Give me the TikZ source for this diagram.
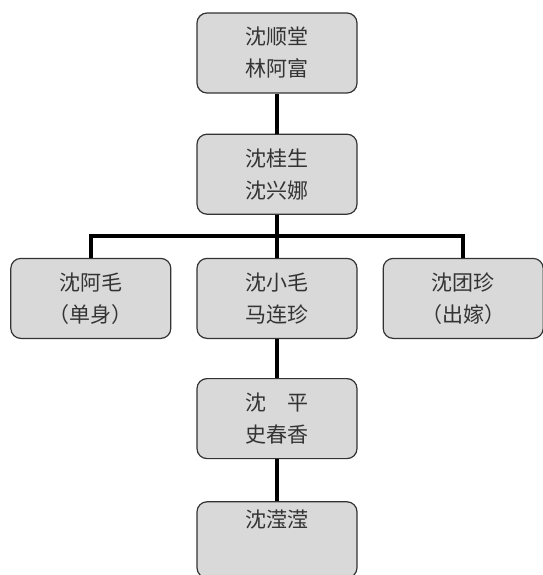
\documentclass[tikz,border=0pt]{standalone}
\usepackage{fontspec}
\newfontfamily\cjk{Noto Sans CJK SC}
\usetikzlibrary{positioning}

\begin{document}
\begin{tikzpicture}[
  person/.style={rectangle, rounded corners=10pt, draw=black!80, line width=1.2pt,
    fill=black!15, minimum width=160pt, minimum height=80pt, align=center,
    text=black!80, font=\cjk\fontsize{21pt}{32pt}\selectfont},
  link/.style={line width=4pt, black},
  node distance=40pt and 25pt
]
  \useasboundingbox (0,0) rectangle (542pt,-575pt);
  \node[person] (shun) at (277pt,-53pt) {沈顺堂\\林阿富};
  \node[person, below=of shun] (gui) {沈桂生\\沈兴娜};
  \node[person, below=43pt of gui] (xiao) {沈小毛\\马连珍};
  \node[person, left=of xiao] (amao) {沈阿毛\\（单身）};
  \node[person, right=of xiao] (tuan) {沈团珍\\（出嫁）};
  \node[person, below=39pt of xiao] (ping) {沈　平\\史春香};
  \node[person, below=42pt of ping, minimum height=76pt] (ying) {沈滢滢\\\strut};
  \coordinate[below=21.5pt of gui] (fork);

  \draw[link] (shun) -- (gui);
  \draw[link] (gui) -- (xiao);
  \draw[link] (amao.north) |- (fork) -| (tuan.north);
  \draw[link] (xiao) -- (ping);
  \draw[link] (ping) -- (ying);
\end{tikzpicture}
\end{document}
